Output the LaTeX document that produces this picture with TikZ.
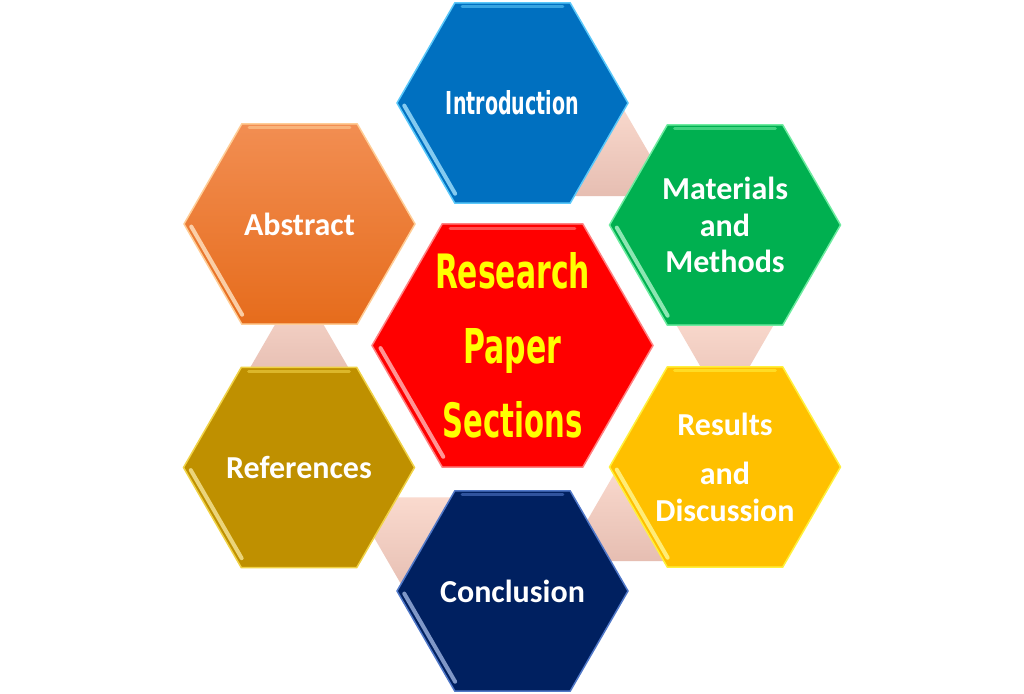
\documentclass[tikz,border=0pt]{standalone}
\usepackage{graphicx}
\usepackage{fontspec}
\setmainfont{Carlito}
\newfontfamily\agency{DejaVu Sans}
\usetikzlibrary{shapes.geometric,calc,backgrounds}
\definecolor{cIntro}{RGB}{0,112,192}
\definecolor{rIntro}{RGB}{90,200,250}
\definecolor{cAbsTop}{RGB}{242,142,82}
\definecolor{cAbsBot}{RGB}{230,108,28}
\definecolor{rAbs}{RGB}{255,205,150}
\definecolor{cMat}{RGB}{0,176,80}
\definecolor{rMat}{RGB}{110,235,160}
\definecolor{cRes}{RGB}{255,192,0}
\definecolor{rRes}{RGB}{255,240,60}
\definecolor{cRef}{RGB}{191,144,0}
\definecolor{rRef}{RGB}{240,210,70}
\definecolor{cCon}{RGB}{0,32,96}
\definecolor{rCon}{RGB}{80,120,200}
\definecolor{cCen}{RGB}{255,0,0}
\definecolor{rCen}{RGB}{255,130,130}
\definecolor{cYel}{RGB}{255,255,0}
\definecolor{pinkTop}{RGB}{250,218,206}
\definecolor{pinkBot}{RGB}{230,190,178}
\begin{document}
\begin{tikzpicture}[x=1pt,y=-1pt,
  hexa/.style={regular polygon, regular polygon sides=6, minimum size=231pt,
    inner sep=0pt, outer sep=0pt, line width=1.5pt},
  bighexa/.style={hexa, minimum size=281pt},
  htext/.style={align=center, text=white, inner sep=0pt,
    font=\fontsize{32}{36.5}\selectfont\bfseries},
  ctext/.style={align=center, text=cYel, inner sep=0pt,
    font=\agency\bfseries\fontsize{36}{74.5}\selectfont},
  conn/.style={top color=pinkTop, bottom color=pinkBot},
  glint/.style={line width=4pt, line cap=round, opacity=0.8},
  topglint/.style={line width=3pt, line cap=round, opacity=0.6}]
\useasboundingbox (0,0) rectangle (1024,693);

\node[hexa, fill=cIntro, draw=rIntro,
  label={[htext, font=\agency\bfseries]center:\resizebox{133pt}{24pt}{Introduction}}] (intro) at (512.5,103) {};
\node[hexa, top color=cAbsTop, bottom color=cAbsBot, draw=rAbs,
  label={[htext]center:Abstract}] (abs) at (299.5,224) {};
\node[hexa, fill=cMat, draw=rMat,
  label={[htext]center:Materials\\and\\Methods}] (mat) at (725,225) {};
\node[hexa, fill=cRes, draw=rRes,
  label={[htext]center:Results\\[13pt]and\\Discussion}] (res) at (725,467) {};
\node[hexa, fill=cRef, draw=rRef,
  label={[htext]center:References}] (refs) at (299,467.5) {};
\node[hexa, fill=cCon, draw=rCon,
  label={[htext]center:Conclusion}] (concl) at (512.5,591) {};
\node[bighexa, fill=cCen, draw=rCen,
  label={[ctext]center:\resizebox{155pt}{36pt}{Research}\\\resizebox{98pt}{35pt}{Paper}\\\resizebox{140pt}{36pt}{Sections}}] (center) at (512.5,345.5) {};

\foreach \n/\r in {intro/rIntro, abs/rAbs, mat/rMat, res/rRes, refs/rRef, concl/rCon, center/rCen} {
  \draw[glint, draw=\r!55!white, shorten <=3pt, shorten >=5pt]
    ($(\n.center)!0.95!(\n.180)$) -- ($(\n.center)!0.95!(\n.240)$);
  \draw[topglint, draw=\r, shorten <=5pt, shorten >=5pt]
    ($(\n.center)!0.96!(\n.120)$) -- ($(\n.center)!0.96!(\n.60)$);
}

\begin{scope}[on background layer]
  \fill[white] (0,0) rectangle (1024,693);
  \shade[conn] ($(intro)!0.5!(mat)+(0,-63)$) -- ++(55,95) -- ++(-110,0) -- cycle;
  \shade[conn] ($(mat)!0.5!(res)+(0,63)$) -- ++(55,-95) -- ++(-110,0) -- cycle;
  \shade[conn] ($(res)!0.5!(concl)+(0,-63)$) -- ++(55,95) -- ++(-110,0) -- cycle;
  \shade[conn] ($(concl)!0.5!(refs)+(0,63)$) -- ++(55,-95) -- ++(-110,0) -- cycle;
  \shade[conn] ($(refs)!0.5!(abs)+(0,-63)$) -- ++(55,95) -- ++(-110,0) -- cycle;
\end{scope}
\end{tikzpicture}
\end{document}
